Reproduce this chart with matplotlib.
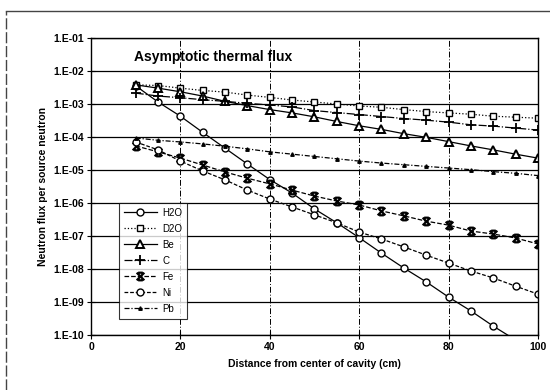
import numpy as np
import matplotlib
matplotlib.use('Agg')
import matplotlib.pyplot as plt
from matplotlib.path import Path
from matplotlib.lines import Line2D
from matplotlib.ticker import FuncFormatter, FixedLocator

plt.rcParams['font.family'] = ['Liberation Sans', 'DejaVu Sans']

# distance from cavity centre (cm) and log10 of flux per source neutron
dist = [10, 15, 20, 25, 30, 35, 40, 45, 50, 55, 60, 65, 70, 75, 80, 85, 90, 95, 100]
h2o = [-2.45, -2.94, -3.37, -3.86, -4.34, -4.82, -5.29, -5.70, -6.18, -6.60,
       -7.05, -7.52, -7.97, -8.39, -8.85, -9.27, -9.73, -10.15, -10.60]
d2o = [-2.42, -2.44, -2.52, -2.59, -2.64, -2.73, -2.80, -2.88, -2.94, -3.00,
       -3.06, -3.10, -3.17, -3.23, -3.27, -3.31, -3.37, -3.40, -3.43]
be = [-2.42, -2.52, -2.63, -2.76, -2.92, -3.05, -3.17, -3.27, -3.39, -3.53,
      -3.66, -3.77, -3.90, -4.01, -4.14, -4.27, -4.39, -4.52, -4.64]
c = [-2.67, -2.76, -2.81, -2.87, -2.92, -2.98, -3.03, -3.09, -3.20, -3.26,
     -3.32, -3.38, -3.44, -3.49, -3.55, -3.63, -3.67, -3.73, -3.79]
fe = [-4.27, -4.45, -4.64, -4.85, -5.06, -5.25, -5.42, -5.61, -5.79, -5.94,
      -6.06, -6.24, -6.39, -6.55, -6.67, -6.85, -6.94, -7.06, -7.24]
ni = [-4.15, -4.39, -4.73, -5.03, -5.30, -5.61, -5.88, -6.12, -6.36, -6.60,
      -6.88, -7.09, -7.33, -7.58, -7.82, -8.06, -8.27, -8.52, -8.76]
pb = [-4.03, -4.10, -4.15, -4.21, -4.28, -4.36, -4.45, -4.52, -4.59, -4.66,
      -4.73, -4.79, -4.84, -4.89, -4.94, -4.99, -5.05, -5.10, -5.17]

# X with short bars on top and bottom, like the old spreadsheet star marker
star = Path([(-1, -1), (1, 1), (-1, 1), (1, -1),
             (-0.6, 1), (0.6, 1), (-0.6, -1), (0.6, -1)],
            [Path.MOVETO, Path.LINETO, Path.MOVETO, Path.LINETO,
             Path.MOVETO, Path.LINETO, Path.MOVETO, Path.LINETO])

series = [
    ('H2O', h2o, dict(ls='-', marker='o', ms=5, mfc='white')),
    ('D2O', d2o, dict(ls=':', marker='s', ms=5, mfc='white')),
    ('Be', be, dict(ls='-', marker='^', ms=5.5, mfc='white', mew=1.4)),
    ('C', c, dict(ls='-.', marker='+', ms=7, mew=1.3)),
    ('Fe', fe, dict(ls='--', marker=star, ms=5.5, mfc='none', mew=1.6)),
    ('Ni', ni, dict(ls=(0, (3, 1.5)), marker='o', ms=5, mfc='white')),
    ('Pb', pb, dict(ls=(0, (4, 1.5, 1, 1.5)), marker='^', ms=2.5)),
]

fig = plt.figure(figsize=(5.5, 3.9), dpi=100)
ax = fig.add_axes([0.1655, 0.141, 0.8125, 0.7616])

for name, vals, style in series:
    ax.plot(dist, 10 ** np.array(vals), color='black', lw=0.9, mec='black',
            label=name, **style)

ax.set_yscale('log')
ax.set_ylim(1e-10, 1e-1)
ax.set_xlim(0, 100)
ax.yaxis.set_major_locator(FixedLocator([10.0 ** -k for k in range(1, 11)]))
ax.yaxis.set_minor_locator(FixedLocator([]))
ax.yaxis.set_major_formatter(FuncFormatter(lambda v, p: '1.E-%02d' % round(-np.log10(v))))
ax.set_xticks([0, 20, 40, 60, 80, 100])

ax.grid(axis='y', color='black', lw=0.9)
ax.grid(axis='x', color='black', lw=0.7, ls=(0, (6, 2, 1, 2)))
for sp in ax.spines.values():
    sp.set_linewidth(1.0)
ax.tick_params(direction='inout', length=6, width=0.8, labelsize=7.5, pad=2)
for lbl in ax.get_xticklabels() + ax.get_yticklabels():
    lbl.set_fontweight('bold')

ax.set_xlabel('Distance from center of cavity (cm)', fontsize=7.5, fontweight='bold', labelpad=5)
ax.set_ylabel('Neutron flux per source neutron', fontsize=7.5, fontweight='bold', labelpad=4)
ax.text(0.096, 0.935, 'Asymptotic thermal flux', transform=ax.transAxes,
        fontsize=10, fontweight='bold', va='center', ha='left')

leg = ax.legend(loc='upper left', bbox_to_anchor=(0.062, 0.445), fontsize=7,
                frameon=True, fancybox=False, edgecolor='black', handlelength=3.4,
                handletextpad=0.6, borderpad=0.5, labelspacing=0.62, borderaxespad=0)
leg.get_frame().set_linewidth(0.8)

# outer frame of the figure
fig.add_artist(Line2D([0.011, 1.0], [0.972, 0.972], color='#444444', lw=1.0))
fig.add_artist(Line2D([0.011, 0.011], [0.0, 0.972], color='#444444', lw=1.0,
                      ls=(0, (8, 2))))

fig.savefig('out.png', dpi=100)
